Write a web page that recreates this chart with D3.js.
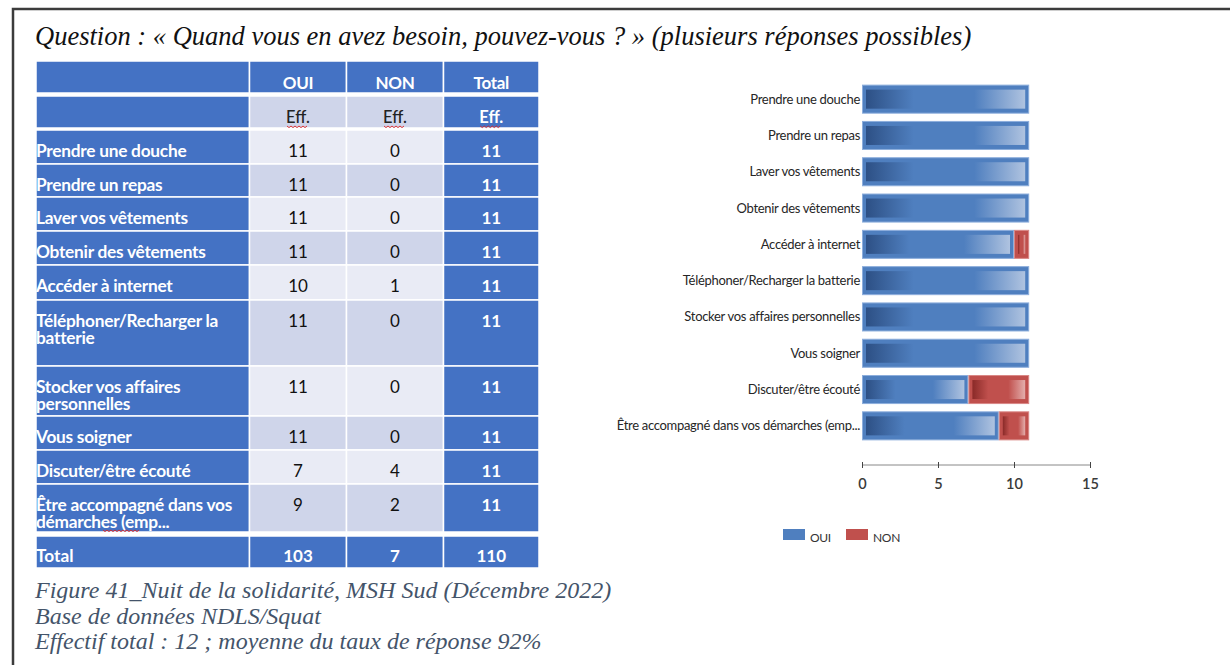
<!DOCTYPE html>
<html lang="fr">
<head>
<meta charset="utf-8">
<script src="https://cdn.jsdelivr.net/npm/d3@7"></script>
<style>
  html, body { margin: 0; padding: 0; background: #ffffff; }
  svg { display: block; }
</style>
</head>
<body>
<svg id="fig" width="1230" height="665"></svg>
<script>
// ---- Data -------------------------------------------------------------
const categories = [
  "Prendre une douche",
  "Prendre un repas",
  "Laver vos vêtements",
  "Obtenir des vêtements",
  "Accéder à internet",
  "Téléphoner/Recharger la batterie",
  "Stocker vos affaires personnelles",
  "Vous soigner",
  "Discuter/être écouté",
  "Être accompagné dans vos démarches (emp..."
];
// Row labels as wrapped in the table
const tableLabels = [
  ["Prendre une douche"],
  ["Prendre un repas"],
  ["Laver vos vêtements"],
  ["Obtenir des vêtements"],
  ["Accéder à internet"],
  ["Téléphoner/Recharger la", "batterie"],
  ["Stocker vos affaires", "personnelles"],
  ["Vous soigner"],
  ["Discuter/être écouté"],
  ["Être accompagné dans vos", "démarches (emp..."]
];
const oui = [11, 11, 11, 11, 10, 11, 11, 11, 7, 9];
const non = [0, 0, 0, 0, 1, 0, 0, 0, 4, 2];
const seriesNames = ["OUI", "NON"];
const columnHeads = ["OUI", "NON", "Total"];
const xTicks = [0, 5, 10, 15];

const titleText = "Question : « Quand vous en avez besoin, pouvez-vous ? » (plusieurs réponses possibles)";
const captionLines = [
  "Figure 41_Nuit de la solidarité, MSH Sud (Décembre 2022)",
  "Base de données NDLS/Squat",
  "Effectif total : 12 ; moyenne du taux de réponse 92%"
];

// ---- Layout -----------------------------------------------------------
const svg = d3.select("#fig");
const BLUE = "#4472C4";
const LIGHT = "#E9EBF5";
const MID = "#CFD5EA";
const TFONT = "Lato, 'Open Sans', sans-serif";
const SERIF = "'Liberation Serif', 'Times New Roman', serif";

// Frame around the figure
svg.append("path")
  .attr("d", "M13,666 L13,9 L1231,9")
  .attr("fill", "none")
  .attr("stroke", "#3c3c3c")
  .attr("stroke-width", 2.5);

// Title
svg.append("text")
  .attr("x", 35).attr("y", 45)
  .attr("font-family", SERIF)
  .attr("font-style", "italic")
  .attr("font-size", 26.5)
  .attr("fill", "#111")
  .text(titleText);

// ---- Table ------------------------------------------------------------
const colEdges = [36, 249.5, 346.5, 443.5, 539];
const rowHeights = [34, 33, 34, 34, 35, 66, 50, 34, 34, 48];
const rowTops = [];
{
  let yy = 130;
  rowHeights.forEach(h => { rowTops.push(yy); yy += h; });
}
const totalTop = 536, totalH = 32;
const table = svg.append("g").attr("font-family", TFONT);

function cell(x0, x1, y0, h, fill) {
  table.append("rect")
    .attr("x", x0).attr("y", y0)
    .attr("width", x1 - x0).attr("height", h)
    .attr("fill", fill)
    .attr("stroke", "#ffffff").attr("stroke-width", 1.5);
}
function colCenter(c) { return (colEdges[c] + colEdges[c + 1]) / 2; }
function squiggle(x0, x1, yb) {
  let d = `M${x0},${yb}`;
  for (let xx = x0, k = 0; xx < x1; xx += 2, k++) d += ` L${xx + 2},${yb + (k % 2 ? 0 : 1.6)}`;
  table.append("path").attr("d", d).attr("fill", "none")
    .attr("stroke", "#d22").attr("stroke-width", 0.9);
}

// Header row: column names
for (let c = 0; c < 4; c++) cell(colEdges[c], colEdges[c + 1], 61, 32, BLUE);
columnHeads.forEach((h, i) => {
  table.append("text")
    .attr("x", colCenter(i + 1)).attr("y", 89)
    .attr("text-anchor", "middle")
    .attr("font-weight", 700).attr("font-size", 17)
    .attr("letter-spacing", -0.3)
    .attr("fill", "#fff").text(h);
});

// Header row: "Eff."
cell(colEdges[0], colEdges[1], 96, 32, BLUE);
cell(colEdges[1], colEdges[2], 96, 32, MID);
cell(colEdges[2], colEdges[3], 96, 32, MID);
cell(colEdges[3], colEdges[4], 96, 32, BLUE);
[1, 2, 3].forEach(c => {
  table.append("text")
    .attr("x", colCenter(c)).attr("y", 123)
    .attr("text-anchor", "middle")
    .attr("font-weight", c === 3 ? 700 : 500).attr("font-size", 16.5)
    .attr("fill", c === 3 ? "#fff" : "#222").text("Eff.");
  squiggle(colCenter(c) - 11, colCenter(c) + 9, 126);
});

// Data rows
categories.forEach((cat, i) => {
  const y0 = rowTops[i], h = rowHeights[i];
  const shade = i % 2 === 0 ? LIGHT : MID;
  cell(colEdges[0], colEdges[1], y0, h, BLUE);
  cell(colEdges[1], colEdges[2], y0, h, shade);
  cell(colEdges[2], colEdges[3], y0, h, shade);
  cell(colEdges[3], colEdges[4], y0, h, BLUE);
  const base = y0 + 26.5;
  const lab = table.append("text")
    .attr("x", 36).attr("y", base)
    .attr("font-weight", 700).attr("font-size", 17.3)
    .attr("fill", "#fff").attr("letter-spacing", -0.25);
  tableLabels[i].forEach((ln, j) => {
    lab.append("tspan").attr("x", 36).attr("y", base + j * 17).text(ln);
  });
  [oui[i], non[i]].forEach((v, k) => {
    table.append("text")
      .attr("x", colCenter(k + 1)).attr("y", base)
      .attr("text-anchor", "middle").attr("font-size", 17)
      .attr("fill", "#111").text(v);
  });
  table.append("text")
    .attr("x", colCenter(3)).attr("y", base)
    .attr("text-anchor", "middle").attr("font-weight", 700).attr("font-size", 17)
    .attr("fill", "#fff").text(oui[i] + non[i]);
});
squiggle(103, 138, 530);

// Total row
for (let c = 0; c < 4; c++) cell(colEdges[c], colEdges[c + 1], totalTop, totalH, BLUE);
const sumOui = d3.sum(oui), sumNon = d3.sum(non);
table.append("text").attr("x", 36).attr("y", totalTop + 26)
  .attr("font-weight", 700).attr("font-size", 17.3).attr("fill", "#fff").text("Total");
[sumOui, sumNon, sumOui + sumNon].forEach((v, k) => {
  table.append("text")
    .attr("x", colCenter(k + 1)).attr("y", totalTop + 26)
    .attr("text-anchor", "middle").attr("font-weight", 700).attr("font-size", 17)
    .attr("fill", "#fff").text(v);
});

// ---- Stacked bar chart -------------------------------------------------
const CFONT = "Lato, 'Open Sans', sans-serif";
const x = d3.scaleLinear().domain([0, 15]).range([862, 1090]);
const y = d3.scaleBand().domain(categories).range([81, 444]).paddingInner(0.2).paddingOuter(0.1);

const defs = svg.append("defs");
const palettes = {
  OUI: { outer: "#4F7FBF", edge: "#8DAEDC", stops: ["#2D5085", "#4F7FBF", "#4F7FBF", "#AFC3E0"] },
  NON: { outer: "#C0504D", edge: "#D98886", stops: ["#8A2A28", "#C0504D", "#C0504D", "#E4AEAC"] }
};
Object.entries(palettes).forEach(([k, p]) => {
  const g = defs.append("linearGradient").attr("id", "grad-" + k)
    .attr("x1", "0").attr("x2", "1").attr("y1", "0").attr("y2", "0");
  [0, 0.3, 0.68, 1].forEach((o, i) => g.append("stop").attr("offset", o).attr("stop-color", p.stops[i]));
});

const rows = categories.map((c, i) => ({ cat: c, OUI: oui[i], NON: non[i] }));
const stacked = d3.stack().keys(seriesNames)(rows);

const chart = svg.append("g");
stacked.forEach(layer => {
  const p = palettes[layer.key];
  const segs = chart.append("g").selectAll("g")
    .data(layer.filter(d => d[1] > d[0]))
    .join("g");
  segs.append("rect")
    .attr("x", d => x(d[0]) + 0.5)
    .attr("y", d => y(d.data.cat) + 0.5)
    .attr("width", d => x(d[1]) - x(d[0]) - 1)
    .attr("height", y.bandwidth() - 1)
    .attr("fill", p.outer)
    .attr("stroke", p.edge).attr("stroke-width", 1);
  segs.append("rect")
    .attr("x", d => x(d[0]) + 4)
    .attr("y", d => y(d.data.cat) + 5)
    .attr("width", d => Math.max(0, x(d[1]) - x(d[0]) - 8))
    .attr("height", y.bandwidth() - 10)
    .attr("fill", `url(#grad-${layer.key})`);
});

// Category labels
chart.append("g").selectAll("text")
  .data(categories)
  .join("text")
  .attr("x", 860)
  .attr("y", d => y(d) + y.bandwidth() / 2 + 4.5)
  .attr("text-anchor", "end")
  .attr("font-family", CFONT)
  .attr("font-size", 13)
  .attr("letter-spacing", -0.3)
  .attr("fill", "#262626")
  .text(d => d);

// Value axis
const axis = svg.append("g")
  .attr("transform", "translate(0,465)")
  .call(d3.axisBottom(x).tickValues(xTicks).tickSize(3).tickPadding(8));
axis.select(".domain").attr("stroke", "#888").attr("d", `M${x(0)},0H${x(15)}`);
axis.selectAll(".tick line").attr("stroke", "#444").attr("y1", -3).attr("y2", 3);
axis.selectAll(".tick text")
  .attr("font-family", CFONT).attr("font-size", 14.5).attr("font-weight", 600)
  .attr("fill", "#3a3a3a").attr("dy", "0.9em");

// Legend
const legend = svg.append("g").attr("font-family", CFONT).attr("font-size", 12).attr("fill", "#333");
const legendX = [783, 846];
seriesNames.forEach((s, i) => {
  legend.append("rect")
    .attr("x", legendX[i]).attr("y", 529).attr("width", 22).attr("height", 11)
    .attr("fill", palettes[s].outer);
  legend.append("text")
    .attr("x", legendX[i] + 27).attr("y", 542)
    .attr("letter-spacing", -0.3)
    .text(s);
});

// ---- Caption ------------------------------------------------------------
svg.append("g").selectAll("text")
  .data(captionLines)
  .join("text")
  .attr("x", 35)
  .attr("y", (d, i) => 598 + i * 25.5)
  .attr("font-family", SERIF)
  .attr("font-style", "italic")
  .attr("font-size", 24)
  .attr("fill", "#44546A")
  .text(d => d);
</script>
</body>
</html>
